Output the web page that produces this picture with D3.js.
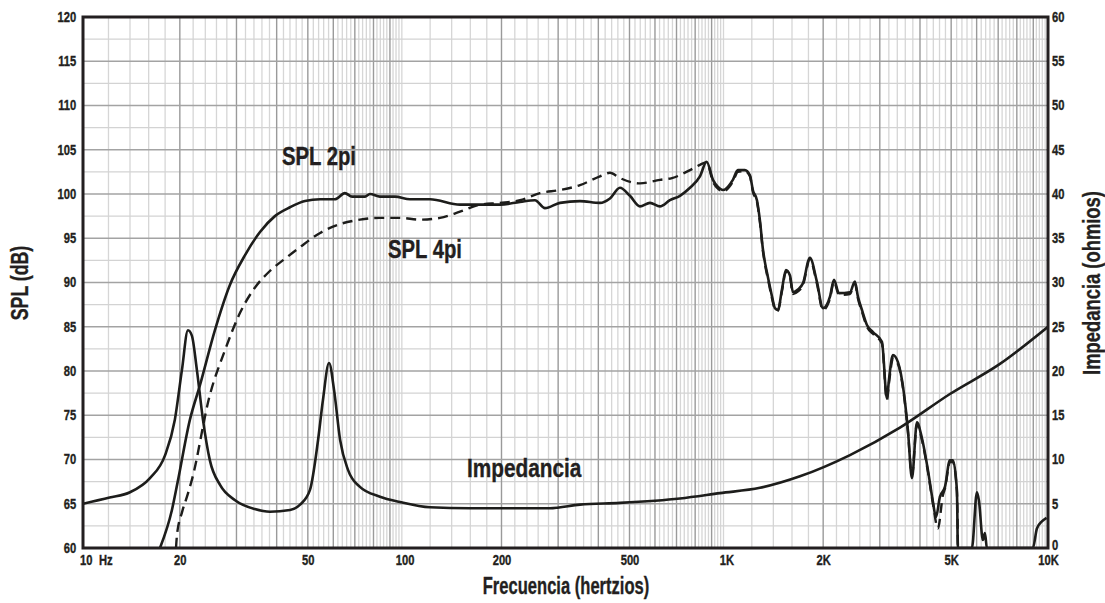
<!DOCTYPE html>
<html><head><meta charset="utf-8">
<script src="https://cdn.jsdelivr.net/npm/d3@7"></script>
<style>
html,body{margin:0;padding:0;background:#fff;}
svg text{font-family:"Liberation Sans",Arial,sans-serif !important;font-weight:bold;fill:#231f20;stroke:#231f20;stroke-width:0.35px;}
</style></head>
<body>
<svg id="c" width="1105" height="603"></svg>
<script>
// ---- data ----
const freq2pi = [17.35,18.9,19.7,21.5,23.1,25.7,28.6,31.9,35.5,39.5,44.0,49.0,54.6,60.7,65.2,68.6,75.3,78.0,83.8,93.3,103.9,119.9,148.6,197.9,228.3,254.1,273.0,304.0,350.7,404.7,434.7,467.0,501.6,538.9,578.9,621.8,668.0,717.6,770.9,827.9,868.6,908.7,941.7,976.0,1048,1086,1142,1184,1210,1245,1272,1300,1318,1347,1387,1416,1447,1489,1532,1577,1611,1670,1730,1819,1912,1997,2100,2161,2239,2423,2510,2565,2640,2736,2856,3046,3157,3203,3296,3416,3565,3669,3776,3914,4056,4234,4389,4484,4614,4782,4955,5063,5210,5248,5799,6012,6098,6275,6365,6457,8974,9236,9572,9900];
const spl2pi  = [60,64.3,67.5,74.5,78.4,84.6,89.7,93.1,95.7,97.5,98.5,99.2,99.4,99.4,100.1,99.7,99.7,100.0,99.7,99.7,99.4,99.4,98.8,98.8,99.1,99.3,98.4,99.0,99.2,99.0,99.5,100.7,99.8,98.6,99.0,98.6,99.3,99.8,100.7,102.0,103.65,101.6,100.8,100.45,101.6,102.7,102.7,102.1,100.4,99.3,97.0,93.7,92.3,90.6,88.4,87.1,86.9,89.2,91.4,90.8,88.9,89.2,89.9,92.8,90.1,87.1,88.4,90.3,88.8,88.9,90.1,88.4,86.9,85.2,84.4,83.3,76.9,79.0,81.8,81.0,77.5,73.3,67.9,74.2,72.4,68.8,65.2,63.5,65.8,66.9,69.9,69.9,66.5,60,60,66.3,65.4,60.9,61.7,60,60,62.2,63.0,63.4];

const freq4pi = [19.46,19.6,20.3,21.05,21.8,24.8,27.6,30.8,34.2,38.1,42.5,47.3,54.6,63.0,72.6,83.8,96.7,111.6,128.8,148.6,171.5,197.9,228.3,263.4,304.0,350.7,404.7,434.7,467.0,538.9,621.8,677.6,770.9,827.9,868.6,908.7,941.7,976.0,1048,1086,1142,1184,1210,1245,1272,1300,1318,1347,1387,1416,1447,1489,1532,1577,1611,1670,1730,1819,1912,1997,2100,2161,2239,2423,2510,2565,2640,2736,2856,3046,3157,3203,3296,3416,3565,3669,3776,3914,4056,4234,4389,4548,4714,4782,4955,5063,5210,5248];
const spl4pi  = [60,61.5,64.0,65.8,67.7,77.3,82.3,86.6,89.4,91.3,92.7,94.0,95.6,96.6,97.1,97.3,97.3,97.1,97.3,98.0,98.8,99.0,99.3,100.1,100.45,101.0,102.0,102.4,101.8,101.2,101.6,101.8,102.7,103.3,103.6,101.4,100.6,100.3,101.4,102.5,102.6,102.0,100.2,99.1,96.8,93.5,92.1,90.4,88.2,87.0,86.8,89.0,91.2,90.6,88.7,89.0,89.7,92.6,89.9,86.9,88.2,90.1,88.6,88.7,89.9,88.2,86.7,85.0,84.2,83.1,76.7,78.6,81.4,80.8,77.3,73.1,68.2,74.0,72.2,68.6,65.0,62.2,66.0,66.7,69.7,69.7,66.3,60];

const freqZ = [10,12.1,14.0,16.15,18.0,19.3,20.3,21.2,21.8,22.6,23.6,24.8,26.7,29.7,34.2,38.1,44.0,47.3,50.8,53.8,55.7,58.2,60.3,63.0,66.7,72.6,83.8,96.7,119.9,159.6,283.0,350.7,467.0,717.6,955.2,1272,1694,2423,3465,4955,7088,10000];
const ohms  = [5.0,5.7,6.3,7.9,10.5,14.5,20.1,24.6,24.0,20.1,14.5,9.9,7.1,5.4,4.4,4.1,4.3,4.9,6.6,12.2,16.7,20.9,17.9,12.2,8.8,6.9,5.8,5.2,4.6,4.5,4.5,4.9,5.1,5.6,6.2,6.8,8.1,10.5,13.6,17.4,20.8,25.0];

const splTicks = [60,65,70,75,80,85,90,95,100,105,110,115,120];
const ohmTicks = [0,5,10,15,20,25,30,35,40,45,50,55,60];
const freqTickVals = [20,50,100,200,500,1000,2000,5000,10000];
const freqTickLabels = ["20","50","100","200","500","1K","2K","5K","10K"];

// ---- chart ----
const L=83,R=1048,T=17,B=548, SX=0.8;
const svg=d3.select("#c");
const x=d3.scaleLog().domain([10,10000]).range([L,R]);
const y=d3.scaleLinear().domain([60,120]).range([B,T]);
const yR=d3.scaleLinear().domain([0,60]).range([B,T]);

// grid
const g=svg.append("g");
const minorX=[],majorX=[];
[10,100,1000].forEach(d=>{
  for(let i=1;i<45;i++){ const k=1+i*0.2; const v=d*k; if(Math.abs(k-Math.round(k))<1e-6) majorX.push(v); else minorX.push(v);}
});
g.selectAll(".mx").data(minorX).join("line").attr("x1",d=>x(d)).attr("x2",d=>x(d)).attr("y1",T).attr("y2",B).attr("stroke","#d6d6d6").attr("stroke-width",1.3);
const minorY=d3.range(62.5,120,5);
g.selectAll(".my").data(minorY).join("line").attr("x1",L).attr("x2",R).attr("y1",d=>y(d)).attr("y2",d=>y(d)).attr("stroke","#d3d3d3").attr("stroke-width",1.3);
g.selectAll(".Mx").data(majorX).join("line").attr("x1",d=>x(d)).attr("x2",d=>x(d)).attr("y1",T).attr("y2",B).attr("stroke","#9a9a9a").attr("stroke-width",1.4);
g.selectAll(".My").data(splTicks.slice(1,-1)).join("line").attr("x1",L).attr("x2",R).attr("y1",d=>y(d)).attr("y2",d=>y(d)).attr("stroke","#a3a3a3").attr("stroke-width",1.4);

// curves
svg.append("clipPath").attr("id","clip").append("rect").attr("x",L).attr("y",T).attr("width",R-L).attr("height",B-T);
const cg=svg.append("g").attr("clip-path","url(#clip)");
const mk=(fs,vs)=>fs.map((f,i)=>[f,vs[i]]);
const lineS=d3.line().x(d=>x(d[0])).y(d=>y(d[1])).curve(d3.curveMonotoneX);
const lineZ=d3.line().x(d=>x(d[0])).y(d=>yR(d[1])).curve(d3.curveMonotoneX);
cg.append("path").attr("d",lineZ(mk(freqZ,ohms))).attr("fill","none").attr("stroke","#1d1d1b").attr("stroke-width",2.6);
cg.append("path").attr("d",lineS(mk(freq4pi,spl4pi))).attr("fill","none").attr("stroke","#1d1d1b").attr("stroke-width",2.4).attr("stroke-dasharray","10,6");
cg.append("path").attr("d",lineS(mk(freq2pi,spl2pi))).attr("fill","none").attr("stroke","#1d1d1b").attr("stroke-width",2.6).attr("stroke-linejoin","round");

// frame
svg.append("rect").attr("x",L).attr("y",T).attr("width",R-L).attr("height",B-T).attr("fill","none").attr("stroke","#231f20").attr("stroke-width",3);

// axes (tick labels)
const ga=svg.append("g").attr("transform",`translate(${L},0)`).call(d3.axisLeft(y).tickValues(splTicks).tickSize(0).tickPadding(8.5));
const gb=svg.append("g").attr("transform",`translate(${R},0)`).call(d3.axisRight(yR).tickValues(ohmTicks).tickSize(0).tickPadding(5));
const gc=svg.append("g").attr("transform",`translate(0,${B})`).call(d3.axisBottom(x).tickValues(freqTickVals).tickFormat((d,i)=>freqTickLabels[i]).tickSize(0).tickPadding(7));
[ga,gb,gc].forEach(a=>{a.select(".domain").remove();a.selectAll("text").style("font-size","14px").attr("fill","#231f20").attr("transform",`scale(${SX},1)`);});
gb.selectAll("text").filter(d=>d===0).attr("dy","0.1em");

function label(px,py,str,size,anchor,rot,sx){
  svg.append("g").attr("transform",`translate(${px},${py}) rotate(${rot||0}) scale(${sx||SX},1)`)
    .append("text").attr("text-anchor",anchor||"start").style("font-size",size+"px").text(str);
}
label(80,564.5,"10",14);
label(99,564.5,"Hz",14);

// titles
label(28,283,"SPL (dB)",23,"middle",-90,0.77);
label(1100,283,"Impedancia (ohmios)",23,"middle",-90,0.8);
label(566,594,"Frecuencia (hertzios)",23,"middle",0,0.72);

// in-plot labels
label(282,165,"SPL 2pi",26,"start",0,0.78);
label(388,258,"SPL 4pi",26,"start",0,0.78);
label(467,477,"Impedancia",26,"start",0,0.8);
</script>
</body></html>
